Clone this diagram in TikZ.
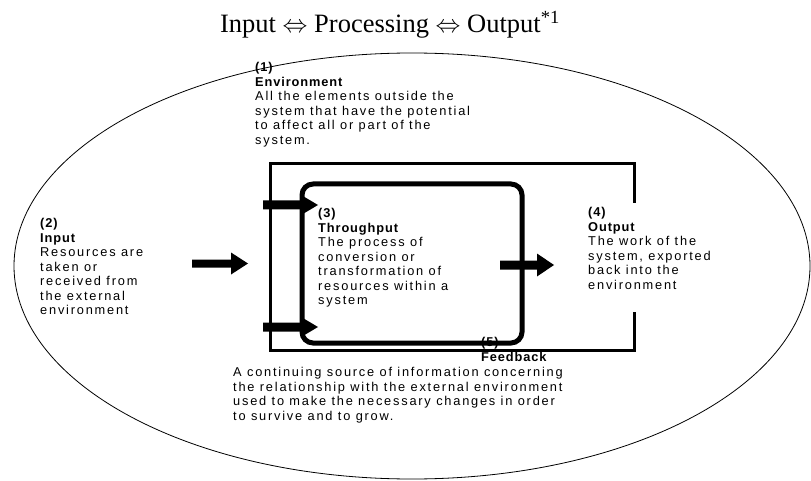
\documentclass[tikz,border=0pt]{standalone}
\usepackage{fontspec}
\setmainfont{Liberation Sans}[LetterSpace=14, BoldFeatures={LetterSpace=7}]
\newfontfamily\titlefont{Liberation Serif}
\newcommand\blockarrow[6]{%
  \fill (#1,{#4-#5/2}) -- (#2,{#4-#5/2}) -- (#2,{#4-#6/2}) -- (#3,#4)
        -- (#2,{#4+#6/2}) -- (#2,{#4+#5/2}) -- (#1,{#4+#5/2}) -- cycle;}
\begin{document}
\begin{tikzpicture}[x=1pt,y=-1pt,
  txt/.style={anchor=north west, inner sep=0pt, align=left,
              font=\fontsize{12.8}{14.5}\selectfont},
  envline/.style={line width=0.8pt},
  loopline/.style={line width=3pt, line join=miter},
  sysbox/.style={line width=5pt, rounded corners=11pt}]
\useasboundingbox (0,0) rectangle (811,481);
% title
\node[anchor=base, inner sep=0pt, font=\titlefont\fontsize{26.5}{30}\selectfont]
  (title) at (390,33) {Input $\Leftrightarrow$ Processing $\Leftrightarrow$ Output\textsuperscript{*1}};
% environment ellipse
\draw[envline] (412,266) ellipse [x radius=398, y radius=213];
% feedback loop
\draw[loopline] (634,203) -- (634,164) -- (270,164) -- (270,350) -- (634,350) -- (634,312);
% system box
\draw[sysbox] (302,184) rectangle (522,343);
% arrows
\blockarrow{192}{231}{248}{263.5}{8}{22}
\blockarrow{500}{537}{554}{265}{9}{23}
\blockarrow{263}{302}{318}{205}{9}{19}
\blockarrow{263}{302}{318}{327}{9}{19}
% texts
\node[txt] (env) at (255,62.3) {\textbf{(1)}\\\textbf{Environment}\\All the elements outside the\\system that have the potential\\to affect all or part of the\\system.};
\node[txt] (input) at (40,218.3) {\textbf{(2)}\\\textbf{Input}\\Resources are\\taken or\\received from\\the external\\environment};
\node[txt] (through) at (318,208.3) {\textbf{(3)}\\\textbf{Throughput}\\The process of\\conversion or\\transformation of\\resources within a\\system};
\node[txt] (output) at (588,207.3) {\textbf{(4)}\\\textbf{Output}\\The work of the\\system, exported\\back into the\\environment};
\node[txt] (fb) at (481,337.3) {\textbf{(5)}\\\textbf{Feedback}};
\node[txt] (fbtext) at (233,367.3) {A continuing source of information concerning\\the relationship with the external environment\\used to make the necessary changes in order\\to survive and to grow.};
\end{tikzpicture}
\end{document}
